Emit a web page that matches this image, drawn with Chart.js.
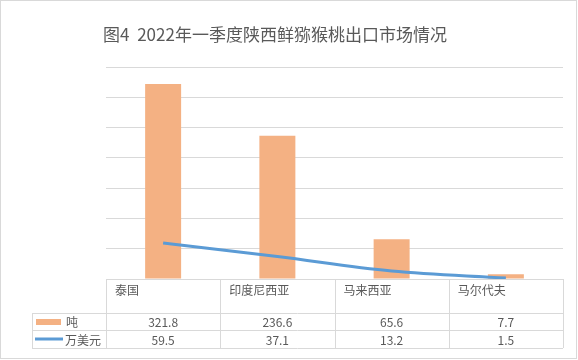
<!DOCTYPE html>
<html>
<head>
<meta charset="utf-8">
<script src="https://cdn.jsdelivr.net/npm/chart.js@4/dist/chart.umd.min.js"></script>
<style>
  html, body { margin: 0; padding: 0; background: #fff; }
  #wrap { width: 578px; height: 360px; }
</style>
</head>
<body>
<div id="wrap"><canvas id="chart" width="578" height="360"></canvas></div>
<script>
// -----------------------------
// DATA
// -----------------------------
const title = "图4  2022年一季度陕西鲜猕猴桃出口市场情况";
const categories = ["泰国", "印度尼西亚", "马来西亚", "马尔代夫"];
const seriesNames = ["吨", "万美元"];
const tonnes = [321.8, 236.6, 65.6, 7.7];
const usd = [59.5, 37.1, 13.2, 1.5];
const valueLabels = [
    ["321.8", "236.6", "65.6", "7.7"],
    ["59.5", "37.1", "13.2", "1.5"]
];
const yMax = 350;
const yStep = 50;

const FONT = '"Noto Sans CJK SC", "Noto Sans", sans-serif';
const TEXT = "#595959";
const GRID = "#d9d9d9";
const ORANGE = "#F4B183";
const BLUE = "#5B9BD5";

// -----------------------------
// TITLE, TABLE, FRAME
// -----------------------------
const tablePlugin = {
    id: "dataTable",
    afterDraw(chart) {
        const ctx = chart.ctx;
        const area = chart.chartArea;
        const x = chart.scales.x;
        const half = (area.right - area.left) / categories.length / 2;

        const top = area.bottom;
        const r1 = top + 34;
        const r2 = r1 + 17;
        const r3 = r2 + 18;
        const labelLeft = 32;

        ctx.save();

        // frame
        ctx.strokeStyle = GRID;
        ctx.lineWidth = 1;
        ctx.strokeRect(0.5, 0.5, 576, 358);

        // title
        ctx.fillStyle = TEXT;
        ctx.font = "17px " + FONT;
        ctx.textAlign = "center";
        ctx.textBaseline = "middle";
        ctx.fillText(title, 275, 35);

        // grid of the table
        ctx.beginPath();
        ctx.moveTo(area.left, top + 0.5); ctx.lineTo(area.right, top + 0.5);
        [r1, r2, r3].forEach(y => {
            ctx.moveTo(labelLeft, Math.round(y) + 0.5);
            ctx.lineTo(area.right, Math.round(y) + 0.5);
        });
        ctx.moveTo(labelLeft + 0.5, r1); ctx.lineTo(labelLeft + 0.5, r3);
        for (let i = 0; i <= categories.length; i++) {
            const bx = Math.round(i < categories.length ? x.getPixelForValue(i) - half : area.right) + 0.5;
            ctx.moveTo(bx, top); ctx.lineTo(bx, r3);
        }
        ctx.stroke();

        // category names
        ctx.font = "12px " + FONT;
        ctx.textAlign = "left";
        categories.forEach((c, i) => {
            ctx.fillText(c, x.getPixelForValue(i) - half + 9, top + 11);
        });

        // values
        ctx.textAlign = "center";
        valueLabels.forEach((row, k) => {
            const cy = k === 0 ? (r1 + r2) / 2 : (r2 + r3) / 2;
            row.forEach((v, i) => ctx.fillText(v, x.getPixelForValue(i), cy + 1));
        });

        // legend keys
        ctx.fillStyle = ORANGE;
        ctx.fillRect(36, r1 + 6, 25, 6);
        ctx.strokeStyle = BLUE;
        ctx.lineWidth = 3;
        ctx.beginPath();
        ctx.moveTo(35, (r2 + r3) / 2); ctx.lineTo(63, (r2 + r3) / 2);
        ctx.stroke();

        ctx.fillStyle = TEXT;
        ctx.textAlign = "left";
        ctx.fillText(seriesNames[0], 66, (r1 + r2) / 2 + 1);
        ctx.fillText(seriesNames[1], 65, (r2 + r3) / 2 + 1);

        ctx.restore();
    }
};

// -----------------------------
// CHART
// -----------------------------
new Chart(document.getElementById("chart"), {
    type: "bar",
    data: {
        labels: categories,
        datasets: [
            {
                type: "line",
                label: seriesNames[1],
                data: usd,
                borderColor: BLUE,
                borderWidth: 3,
                pointRadius: 0,
                tension: 0.35,
                order: 0
            },
            {
                label: seriesNames[0],
                data: tonnes,
                backgroundColor: ORANGE,
                categoryPercentage: 1,
                barPercentage: 0.315,
                order: 1
            }
        ]
    },
    options: {
        responsive: false,
        animation: false,
        layout: { padding: { left: 106, right: 15, top: 67, bottom: 81 } },
        plugins: {
            legend: { display: false },
            title: { display: false },
            tooltip: { enabled: false }
        },
        scales: {
            x: {
                display: false,
                grid: { display: false }
            },
            y: {
                min: 0,
                max: yMax,
                ticks: { display: false, stepSize: yStep },
                border: { display: false },
                grid: { color: GRID, drawTicks: false },
                afterFit(scale) { scale.width = 0; }
            }
        }
    },
    plugins: [tablePlugin]
});
</script>
</body>
</html>
